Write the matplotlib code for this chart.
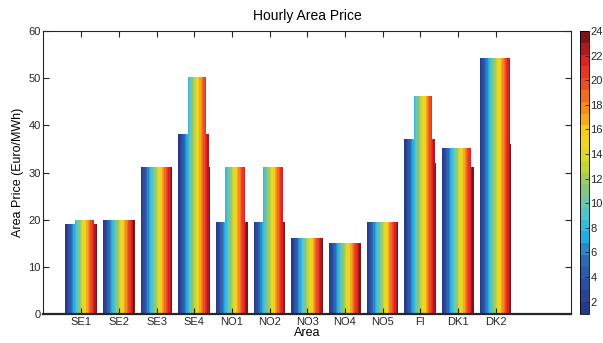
import numpy as np
import matplotlib
matplotlib.use("Agg")
import matplotlib.pyplot as plt
from matplotlib.colors import LinearSegmentedColormap, ListedColormap, Normalize
from matplotlib.cm import ScalarMappable

plt.rcParams['font.family'] = ['Liberation Sans', 'DejaVu Sans']

areas = ['SE1', 'SE2', 'SE3', 'SE4', 'NO1', 'NO2', 'NO3', 'NO4', 'NO5', 'FI', 'DK1', 'DK2']
hours = np.arange(1, 25)

# hourly price per area (Euro/MWh), hours 1..24
se1 = [19.0] * 7 + [20.0] * 15 + [19.0] * 2
se2 = [20.0] * 24
se3 = [31.2] * 24
se4 = [38.2] * 7 + [50.2] * 14 + [38.2] * 2 + [31.2]
no1 = [19.6] * 7 + [31.2] * 15 + [19.6] * 2
no2 = [19.6] * 7 + [31.2] * 15 + [19.6] * 2
no3 = [16.1] * 24
no4 = [15.1] * 24
no5 = [19.5] * 24
fi = [37.2] * 7 + [46.3] * 14 + [37.2] * 2 + [32.1]
dk1 = [35.2] * 22 + [31.2] * 2
dk2 = [54.2] * 23 + [36.0]

prices = np.array([se1, se2, se3, se4, no1, no2, no3, no4, no5, fi, dk1, dk2])

# blue -> cyan -> yellow -> red ramp, one colour per hour
anchors = ['#263a8c', '#2c4fa2', '#2f6cb4', '#22b6ea', '#5fc4c4', '#90c76c',
           '#d2dc2c', '#f8d61d', '#f7941e', '#ee5224', '#e32227', '#7b1618']
ramp = LinearSegmentedColormap.from_list('hours', anchors)
hour_colors = ramp(np.linspace(0, 1, 24))
cmap = ListedColormap(hour_colors)

fig = plt.figure(figsize=(6.03, 3.43), dpi=100)
ax = fig.add_axes([0.0721, 0.0845, 0.8748, 0.8251])
cax = fig.add_axes([0.9619, 0.0845, 0.0149, 0.8251])

x = np.arange(1, len(areas) + 1)
group_w = 0.84
bar_w = group_w / 24
for h in range(24):
    offs = -group_w / 2 + bar_w * (h + 0.5)
    ax.bar(x + offs, prices[:, h], width=bar_w, color=hour_colors[h],
           edgecolor='none', linewidth=0)

ax.set_xlim(0, 14)
ax.set_ylim(0, 60)
ax.set_xticks(x)
ax.set_xticklabels(areas)
ax.set_yticks(np.arange(0, 61, 10))
ax.tick_params(direction='in', top=True, right=True, length=4, width=0.8,
               labelsize=8, colors='#262626', pad=2)
for s in ax.spines.values():
    s.set_color('#262626')
    s.set_linewidth(0.8)
ax.spines['bottom'].set_linewidth(1.6)

ax.set_xlabel('Area', fontsize=9, labelpad=0)
ax.set_ylabel('Area Price (Euro/MWh)', fontsize=9, labelpad=3)
ax.set_title('Hourly Area Price', fontsize=10, pad=8)

sm = ScalarMappable(norm=Normalize(1, 24), cmap=cmap)
cb = fig.colorbar(sm, cax=cax)
cb.set_ticks(np.arange(2, 25, 2))
cb.ax.tick_params(direction='in', length=3, width=0.6, labelsize=8, pad=1,
                  colors='#262626')
cb.outline.set_linewidth(0.6)

fig.savefig('out.png', dpi=100)
